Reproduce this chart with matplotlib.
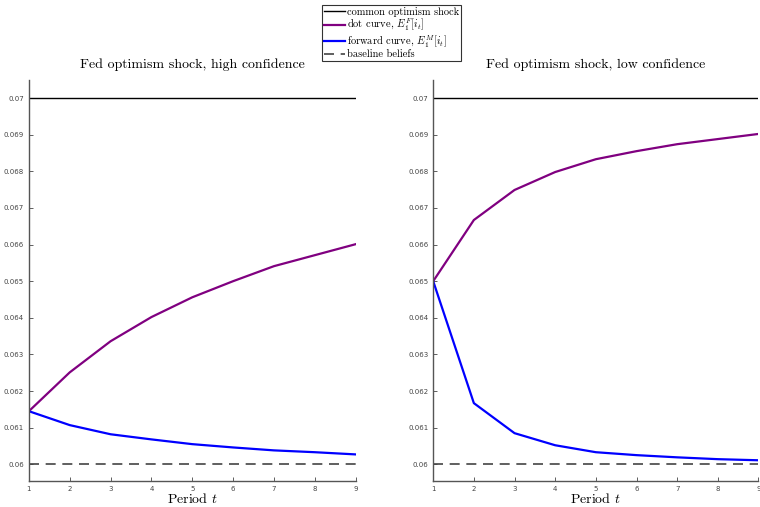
import numpy as np
import matplotlib
matplotlib.use("Agg")
import matplotlib.pyplot as plt

plt.rcParams["mathtext.fontset"] = "cm"

periods = [1, 2, 3, 4, 5, 6, 7, 8, 9]
titles = ["Fed optimism shock, high confidence", "Fed optimism shock, low confidence"]
shock = 0.07
baseline = 0.06
dot_high = [0.06145, 0.06251, 0.06336, 0.06402, 0.06456, 0.06500, 0.06541, 0.06571, 0.06601]
fwd_high = [0.06145, 0.06107, 0.06082, 0.06068, 0.06055, 0.06046, 0.06038, 0.06033, 0.06027]
dot_low = [0.06500, 0.06667, 0.06749, 0.06798, 0.06833, 0.06855, 0.06874, 0.06888, 0.06902]
fwd_low = [0.06500, 0.06167, 0.06085, 0.06052, 0.06033, 0.06025, 0.06019, 0.06014, 0.06011]
yticks = [0.06, 0.061, 0.062, 0.063, 0.064, 0.065, 0.066, 0.067, 0.068, 0.069, 0.07]
ytick_labels = ["0.06", "0.061", "0.062", "0.063", "0.064", "0.065", "0.066", "0.067", "0.068", "0.069", "0.07"]

fig = plt.figure(figsize=(7.6, 5.07), dpi=100)
ax1 = fig.add_axes([0.038, 0.051, 0.430, 0.791])
ax2 = fig.add_axes([0.570, 0.051, 0.428, 0.791])

serif = "cmr10"
handles = None
for ax, title, dot, fwd in [(ax1, titles[0], dot_high, fwd_high), (ax2, titles[1], dot_low, fwd_low)]:
    h1, = ax.plot(periods, [shock] * len(periods), color="black", lw=1.0)
    h2, = ax.plot(periods, dot, color="#800080", lw=1.6)
    h3, = ax.plot(periods, fwd, color="#0000ff", lw=1.6)
    h4, = ax.plot(periods, [baseline] * len(periods), color="#444444", lw=1.2, ls=(0, (6, 4)))
    handles = [h1, h2, h3, h4]
    ax.set_xlim(1, 9)
    ax.set_ylim(0.05954, 0.07049)
    ax.set_xticks(periods)
    ax.set_yticks(yticks)
    ax.set_yticklabels(ytick_labels)
    ax.tick_params(direction="in", labelsize=5, colors="#444444", length=3, width=0.6)
    for s in ["top", "right"]:
        ax.spines[s].set_visible(False)
    for s in ["left", "bottom"]:
        ax.spines[s].set_color("#555555")
        ax.spines[s].set_linewidth(1.0)
    ax.set_title(title, fontsize=10, family=serif, pad=9)
    ax.set_xlabel(r"Period $t$", fontsize=10, family=serif, labelpad=0)

labels = ["common optimism shock",
          r"dot curve, $E_1^F[i_t]$",
          r"forward curve, $E_1^M[i_t]$",
          "baseline beliefs"]
leg = fig.legend(handles, labels, loc="upper center", bbox_to_anchor=(0.515, 0.991),
                 prop={"family": serif, "size": 7.5}, frameon=True, fancybox=False,
                 edgecolor="black", handlelength=2.0, handletextpad=0.2,
                 borderpad=0.2, labelspacing=0.02, borderaxespad=0)
leg.get_frame().set_linewidth(0.8)

fig.savefig("out.png", dpi=100)
